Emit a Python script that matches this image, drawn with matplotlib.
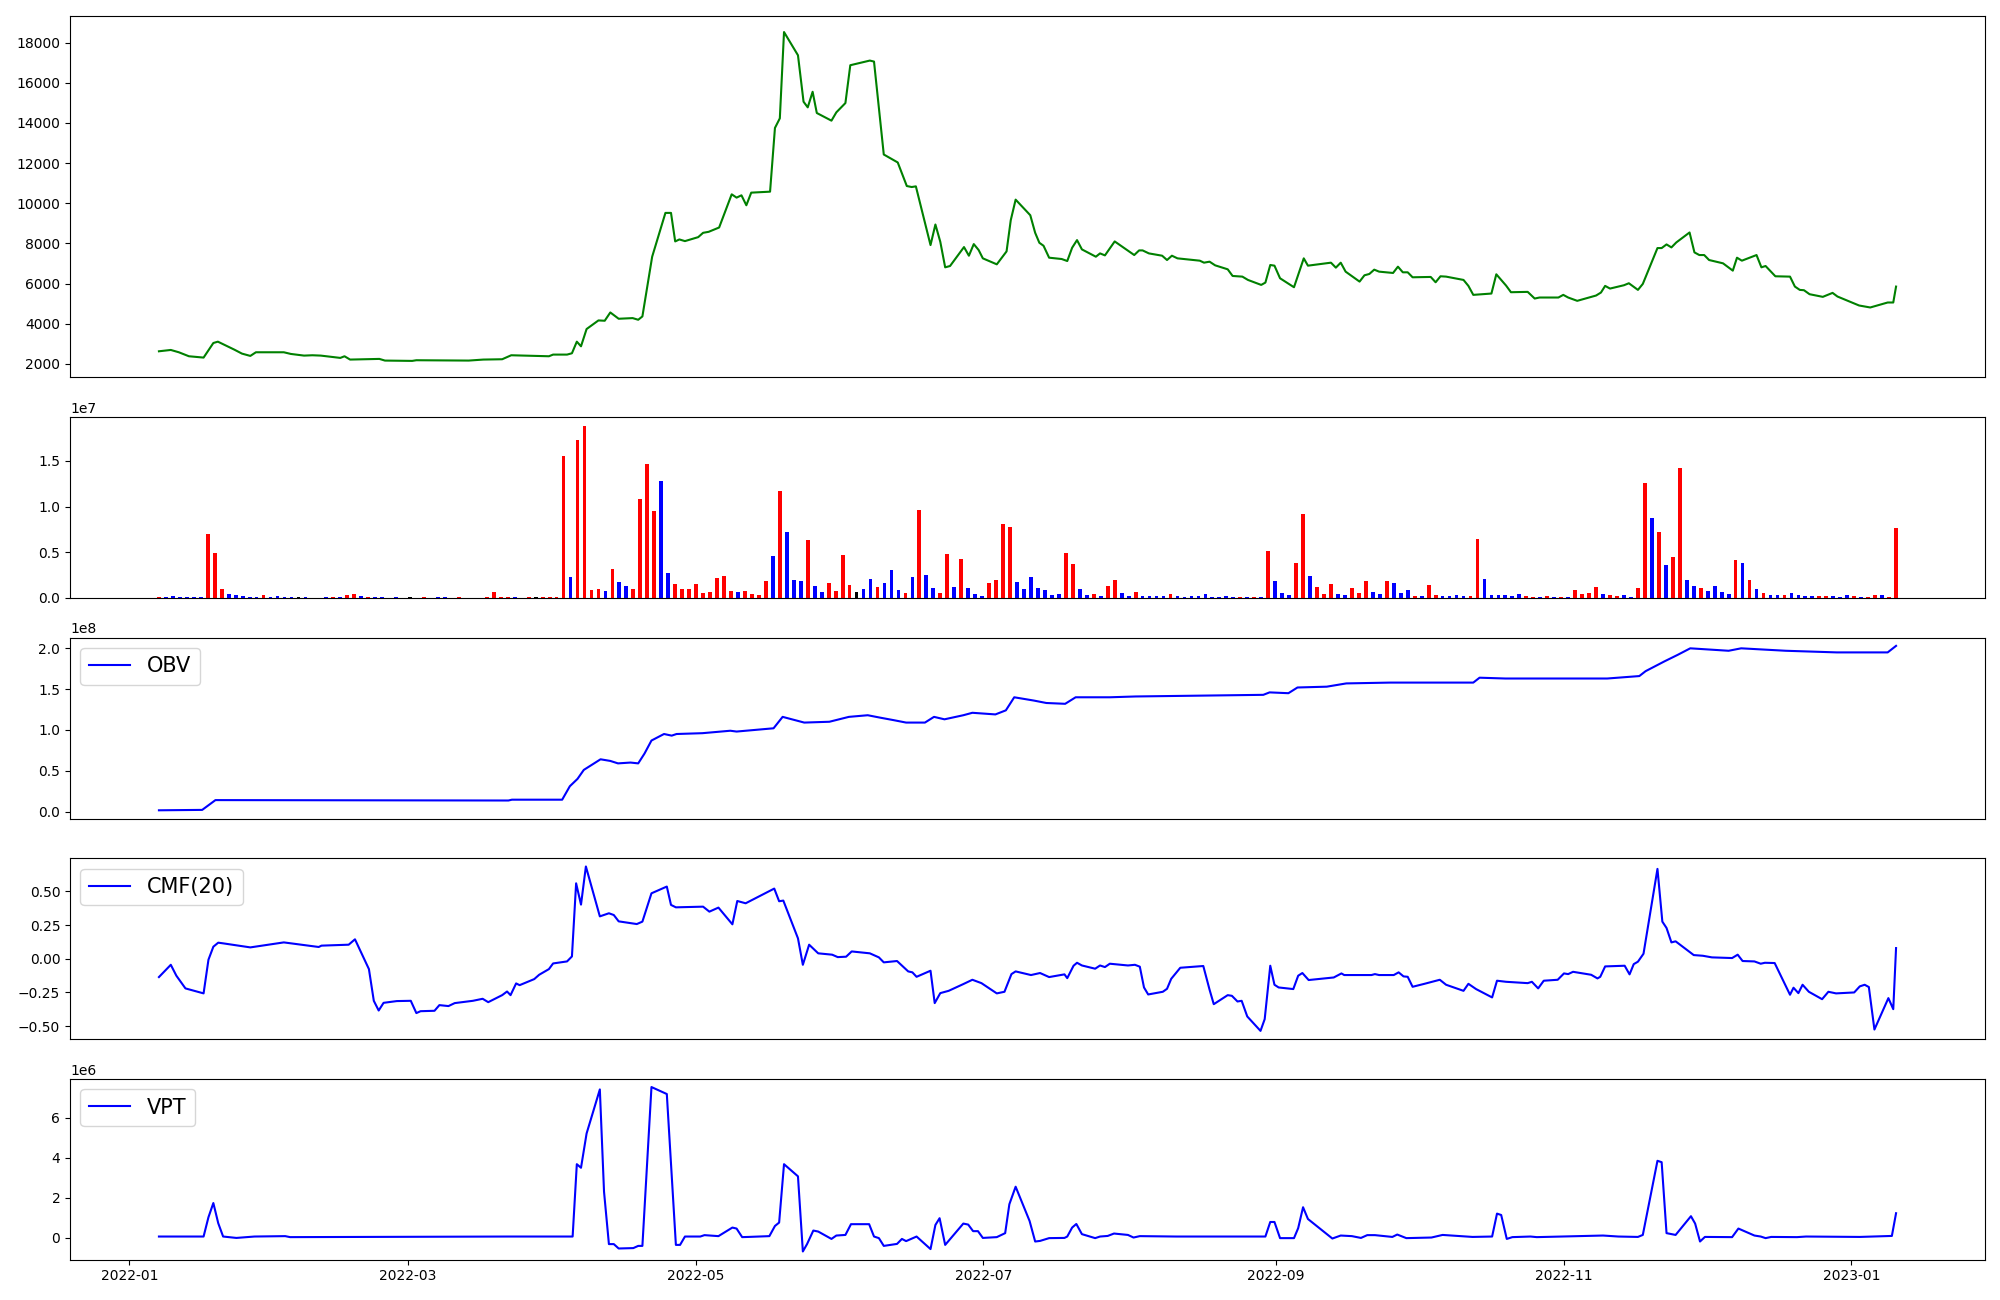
import pandas as pd
import matplotlib.pyplot as plt
import matplotlib.dates as mdates
from matplotlib.ticker import MultipleLocator
import numpy as np

# 250 rows, evenly spaced in time
start = pd.Timestamp('2022-01-07 06:00')
end = pd.Timestamp('2023-01-10 10:48')
n_rows = 250
dates = pd.date_range(start, end, periods=n_rows)
step = (end - start) / (n_rows - 1)


def row_to_date(pos):
    return [start + step * p for p in pos]


# volume (millions) and bar colour per row: r = up, b = down, k = flat
volume = [0.15, 0.15, 0.25, 0.15, 0.15, 0.15, 0.15, 6.97, 4.9, 0.98,
          0.44, 0.33, 0.22, 0.15, 0.15, 0.33, 0.15, 0.22, 0.15, 0.15,
          0.15, 0.15, 0, 0, 0.15, 0.15, 0.15, 0.33, 0.44, 0.22,
          0.15, 0.15, 0.15, 0, 0.15, 0, 0.15, 0, 0.15, 0,
          0.15, 0.15, 0, 0.15, 0, 0, 0, 0.15, 0.69, 0.15,
          0.15, 0.15, 0, 0.15, 0.15, 0.15, 0.15, 0.15, 15.58, 2.29,
          17.32, 18.85, 0.87, 0.98, 0.76, 3.16, 1.74, 1.31, 0.98, 10.78,
          14.71, 9.48, 12.75, 2.72, 1.53, 0.98, 0.98, 1.53, 0.54, 0.65,
          2.18, 2.4, 0.76, 0.65, 0.76, 0.44, 0.33, 1.85, 4.58, 11.66,
          7.19, 1.96, 1.85, 6.32, 1.31, 0.65, 1.63, 0.76, 4.68, 1.42,
          0.65, 0.98, 2.07, 1.2, 1.63, 3.05, 0.87, 0.54, 2.29, 9.59,
          2.5, 1.09, 0.54, 4.79, 1.2, 4.25, 1.09, 0.44, 0.22, 1.63,
          1.96, 8.06, 7.73, 1.74, 0.98, 2.29, 1.09, 0.87, 0.33, 0.44,
          4.9, 3.7, 0.98, 0.33, 0.44, 0.22, 1.31, 1.96, 0.54, 0.22,
          0.65, 0.22, 0.22, 0.22, 0.22, 0.44, 0.22, 0.11, 0.22, 0.22,
          0.44, 0.11, 0.11, 0.22, 0.11, 0.11, 0.11, 0.11, 0.11, 5.12,
          1.85, 0.54, 0.33, 3.81, 9.15, 2.4, 1.2, 0.44, 1.53, 0.44,
          0.33, 1.09, 0.54, 1.85, 0.65, 0.44, 1.85, 1.63, 0.54, 0.87,
          0.22, 0.22, 1.42, 0.33, 0.22, 0.22, 0.33, 0.22, 0.22, 6.43,
          2.07, 0.33, 0.33, 0.33, 0.22, 0.44, 0.22, 0.11, 0.11, 0.22,
          0.11, 0.11, 0.11, 0.87, 0.44, 0.54, 1.2, 0.44, 0.33, 0.22,
          0.33, 0.11, 1.09, 12.53, 8.71, 7.19, 3.59, 4.47, 14.27, 1.96,
          1.31, 1.09, 0.76, 1.31, 0.65, 0.44, 4.14, 3.81, 1.96, 0.98,
          0.54, 0.33, 0.33, 0.33, 0.54, 0.33, 0.22, 0.22, 0.22, 0.22,
          0.22, 0.11, 0.33, 0.22, 0.11, 0.11, 0.33, 0.33, 0.11, 7.63]
updown = ('rbbbbbbrrr' 'bbbbbrbbbb' 'kbkkbrbrrb' 'rbbkbkkkrk'
          'bbkrkkkrrr' 'rbkrkrrrrb' 'rrrrbrbbrr' 'rrbbrrrrrr'
          'rrrbrrrrbr' 'bbbrbbrrrr' 'kbbrbbbrbr' 'bbrrbrbbbr'
          'rrrbbbbbbb' 'rrbbrbrrbb' 'rbbbbrbbbb' 'bbbbbrbrbr'
          'bbbrrbrrrb' 'brrrbbrbbb' 'rbrrbbbbrr' 'bbbbbbrrbr'
          'brbrrrrbrr' 'bbrrbrbrrb' 'brbbbbrbrb' 'rbbrbbbbrr'
          'bbbrbrrbr')
colour_names = {'r': 'red', 'b': 'blue', 'k': 'black'}
bar_colours = [colour_names[c] for c in updown]

# price line: (row position, value)
price_pos = [0, 1.7, 2.85, 4.3, 6.4, 7.8, 8.45, 10.8, 11.9, 13.1, 13.9, 17.9,
             18.9, 20.8, 22.0, 23.2, 26.0, 26.6, 27.4, 31.6, 32.4, 36.3, 36.9,
             44.4, 46.5, 49.2, 50.5, 55.9, 56.5, 58.5, 59.2, 59.9, 60.5, 61.3,
             63.0, 63.9, 64.7, 65.9, 67.9, 68.7, 69.3, 70.7, 72.6, 73.4, 74.0,
             74.6, 75.4, 77.3, 78.0, 78.8, 80.3, 82.1, 82.8, 83.5, 84.2, 84.9,
             87.6, 88.3, 89.0, 89.6, 91.6, 92.4, 93.0, 93.7, 94.3, 96.4, 97.1,
             98.4, 99.1, 101.9, 102.5, 103.9, 105.9, 107.2, 107.9, 108.5,
             110.6, 111.3, 112.0, 112.7, 113.4, 115.4, 116.1, 116.8, 117.5,
             118.1, 120.1, 121.5, 122.1, 122.8, 124.9, 125.6, 126.2, 126.8,
             127.6, 129.4, 130.2, 130.9, 131.6, 132.3, 134.3, 134.9, 135.6,
             137.0, 139.8, 140.5, 141.0, 141.9, 143.8, 144.5, 145.2, 146.0,
             149.2, 149.8, 150.6, 151.4, 153.2, 153.9, 155.3, 156.1, 158.0,
             158.6, 159.3, 159.9, 160.7, 162.7, 164.1, 164.7, 168.0, 168.7,
             169.4, 170.1, 172.1, 172.8, 173.5, 174.2, 174.9, 176.9, 177.6,
             178.3, 179.0, 179.7, 182.3, 183.0, 183.7, 184.5, 187.0, 187.7,
             188.4, 191.0, 191.7, 193.1, 193.8, 196.2, 197.2, 197.9, 200.6,
             201.3, 202.0, 203.3, 206.0, 206.7, 207.3, 208.0, 210.0, 210.7,
             212.0, 212.7, 214.8, 215.4, 216.1, 216.8, 217.5, 219.4, 220.1,
             220.8, 221.5, 222.2, 224.2, 225.6, 226.2, 226.9, 229.0, 229.7,
             230.3, 231.7, 233.8, 234.5, 235.2, 235.8, 236.6, 238.5, 239.9,
             240.6, 243.7, 245.3, 247.8, 248.6, 249.0]
price = [2628, 2694, 2579, 2380, 2314, 3041, 3107, 2711, 2512, 2397, 2579, 2579,
         2496, 2413, 2430, 2413, 2298, 2380, 2215, 2248, 2165, 2149, 2182,
         2165, 2215, 2231, 2430, 2380, 2463, 2463, 2529, 3107, 2876, 3736,
         4165, 4149, 4562, 4248, 4281, 4198, 4364, 7339, 9521, 9521, 8100,
         8199, 8116, 8314, 8529, 8579, 8794, 10447, 10282, 10397, 9901, 10530,
         10579, 13753, 14232, 18530, 17373, 15059, 14778, 15555, 14497, 14116, 14530,
         14993, 16877, 17109, 17059, 12430, 12034, 10860, 10810, 10843,
         7918, 8943, 8083, 6810, 6876, 7819, 7389, 7967, 7670,
         7257, 6959, 7604, 9157, 10182, 9405, 8529, 8033, 7884,
         7290, 7224, 7124, 7786, 8166, 7703, 7339, 7504, 7405,
         8100, 7422, 7653, 7653, 7504, 7389, 7174, 7389, 7257,
         7141, 7042, 7091, 6909, 6711, 6380, 6347, 6182, 5934,
         6050, 6926, 6893, 6265, 5818, 7257, 6893, 7042, 6794,
         7042, 6595, 6099, 6413, 6479, 6694, 6595, 6529, 6843,
         6562, 6562, 6314, 6331, 6066, 6364, 6347, 6182, 5885,
         5438, 5504, 6463, 5901, 5570, 5587, 5256, 5306, 5306,
         5438, 5306, 5141, 5405, 5554, 5885, 5752, 5918, 6017,
         5686, 5984, 7769, 7769, 7951, 7802, 8050, 8546, 7554,
         7422, 7422, 7174, 7009, 6645, 7290, 7141, 7422, 6810,
         6876, 6364, 6347, 5851, 5686, 5670, 5471, 5339, 5537,
         5356, 4909, 4810, 5058, 5058, 5851]

# OBV (1e8)
obv_pos = [0, 6.2, 8.1, 50.1, 50.6, 57.8, 58.9, 60.0, 60.9, 63.3, 64.7, 65.8,
           67.6, 68.7, 69.6, 70.6, 72.4, 73.5, 74.2, 77.9, 81.9, 82.8, 88.1,
           89.4, 92.5, 96.1, 98.9, 101.6, 103.4, 105.3, 107.1, 109.8, 111.1,
           112.6, 115.3, 116.6, 119.9, 121.4, 122.6, 125.4, 127.2, 129.9,
           131.4, 136.3, 140.0, 158.3, 159.2, 161.9, 163.2, 167.4, 170.2,
           176.5, 188.4, 189.3, 193.0, 207.6, 212.2, 213.1, 214.9, 215.8,
           217.7, 219.5, 225.0, 226.8, 233.2, 240.5, 247.8, 249.0]
obv = [0.015, 0.02, 0.14, 0.135, 0.145, 0.145, 0.31, 0.4, 0.51, 0.64, 0.62, 0.59,
       0.6, 0.59, 0.71, 0.87, 0.95, 0.93, 0.95, 0.96, 0.99, 0.98, 1.02,
       1.16, 1.09, 1.1, 1.16, 1.18, 1.15, 1.12, 1.09, 1.09, 1.16,
       1.13, 1.18, 1.21, 1.19, 1.24, 1.4, 1.36, 1.33, 1.32,
       1.4, 1.4, 1.41, 1.43, 1.46, 1.45, 1.52, 1.53, 1.57,
       1.58, 1.58, 1.64, 1.63, 1.63, 1.66, 1.72, 1.80, 1.84,
       1.92, 2.0, 1.97, 2.0, 1.97, 1.95, 1.95, 2.03]

# CMF(20)
cmf_pos = [0, 1.7, 2.5, 3.8, 6.4, 7.1, 7.8, 8.5, 9.2, 13.1, 17.9, 22.9, 23.3,
           27.2, 28.1, 30.1, 30.8, 31.5, 32.2, 34.1, 36.1, 36.9, 37.5, 39.5,
           40.2, 41.5, 42.4, 45.0, 46.4, 47.2, 49.2, 49.9, 50.4, 51.2, 51.7,
           53.8, 54.5, 55.9, 56.5, 58.5, 59.2, 59.8, 60.5, 61.2, 63.2, 64.5,
           65.2, 65.9, 68.5, 69.3, 70.6, 72.8, 73.4, 74.1, 78.0, 78.9, 80.2,
           82.2, 82.9, 84.1, 88.2, 88.9, 89.5, 91.6, 92.3, 93.2, 94.5, 96.5,
           97.3, 98.5, 99.3, 101.9, 103.2, 103.9, 105.8, 107.4, 108.0, 108.6,
           110.6, 111.2, 112.0, 113.2, 115.3, 116.6, 117.9, 120.1, 121.2,
           122.2, 122.8, 125.0, 126.3, 127.6, 129.8, 130.2, 131.1, 131.6,
           132.3, 134.2, 134.9, 135.6, 136.3, 138.9, 139.9, 140.6, 141.2,
           141.8, 143.9, 144.5, 145.1, 146.4, 149.7, 150.6, 151.2, 153.2,
           153.8, 154.6, 155.2, 156.0, 157.9, 158.5, 159.3, 159.9, 160.5,
           162.6, 163.3, 163.9, 164.8, 168.4, 169.5, 169.9, 173.8, 174.3,
           174.9, 177.0, 177.7, 178.4, 179.0, 179.7, 181.4, 183.6, 184.5,
           187.0, 187.7, 188.8, 191.1, 191.8, 193.1, 196.2, 196.8, 197.7,
           198.5, 200.5, 201.4, 202.0, 202.7, 205.3, 206.2, 206.6, 207.3,
           210.1, 210.8, 211.4, 212.0, 212.8, 214.8, 215.5, 216.1, 216.8,
           217.4, 220.0, 221.3, 222.6, 225.5, 226.3, 227.0, 228.7, 229.6,
           230.2, 231.6, 233.8, 234.3, 235.0, 235.6, 236.5, 238.4, 239.3,
           240.4, 243.0, 243.8, 244.5, 245.1, 245.9, 247.9, 248.6, 249.0]
cmf = [-0.136, -0.045, -0.126, -0.22, -0.257, -0.007, 0.089, 0.119, 0.114, 0.084,
       0.121, 0.087, 0.097, 0.104, 0.144, -0.077, -0.312, -0.384, -0.327, -0.314,
       -0.312, -0.403, -0.389, -0.386, -0.344, -0.351, -0.329, -0.312, -0.297,
       -0.322, -0.27, -0.243, -0.27, -0.183, -0.196, -0.151, -0.119, -0.077,
       -0.035, -0.02, 0.017, 0.559, 0.401, 0.684, 0.314, 0.337, 0.324, 0.277,
       0.257, 0.275, 0.485, 0.535, 0.399, 0.381, 0.386, 0.349, 0.379, 0.255,
       0.428, 0.411, 0.52, 0.426, 0.431, 0.151, -0.045, 0.104, 0.04, 0.03,
       0.012, 0.015, 0.054, 0.04, 0.01, -0.027, -0.017, -0.094, -0.101, -0.134,
       -0.089, -0.329, -0.255, -0.238, -0.188, -0.156, -0.181, -0.257, -0.245,
       -0.114, -0.094, -0.121, -0.106, -0.136, -0.116, -0.144, -0.052, -0.03,
       -0.05, -0.074, -0.05, -0.062, -0.037, -0.05, -0.045, -0.059, -0.213,
       -0.265, -0.245, -0.223, -0.149, -0.067, -0.054, -0.23, -0.337, -0.27,
       -0.275, -0.317, -0.312, -0.428, -0.535, -0.448, -0.052, -0.193, -0.213,
       -0.225, -0.126, -0.106, -0.158, -0.139, -0.109, -0.121, -0.121, -0.114,
       -0.121, -0.121, -0.101, -0.131, -0.134, -0.208, -0.186, -0.156, -0.193,
       -0.238, -0.186, -0.225, -0.287, -0.163, -0.171, -0.181, -0.171, -0.22,
       -0.163, -0.156, -0.109, -0.114, -0.097, -0.119, -0.146, -0.134, -0.057,
       -0.052, -0.116, -0.04, -0.022, 0.037, 0.666, 0.275, 0.228, 0.121,
       0.129, 0.027, 0.022, 0.01, 0.005, 0.03, -0.017, -0.02, -0.037,
       -0.03, -0.032, -0.267, -0.215, -0.255, -0.193, -0.245, -0.3, -0.245,
       -0.257, -0.25, -0.205, -0.193, -0.21, -0.525, -0.292, -0.374, 0.079]

# VPT (1e6)
vpt_pos = [0, 6.4, 7.1, 7.8, 8.5, 9.2, 11.1, 13.7, 18.1, 18.8, 50.2, 59.3,
           59.9, 60.5, 61.3, 63.2, 63.8, 64.5, 65.2, 65.9, 68.0, 68.7, 69.3,
           70.6, 72.8, 74.1, 74.7, 75.4, 77.6, 78.2, 80.2, 82.2, 82.8, 83.6,
           84.5, 87.5, 88.3, 88.9, 89.6, 91.6, 92.3, 92.9, 93.8, 94.5, 96.4,
           97.1, 98.4, 99.2, 101.8, 102.5, 103.2, 103.9, 105.8, 106.5, 107.1,
           108.6, 110.6, 111.3, 111.9, 112.7, 115.3, 116.0, 116.7, 117.4,
           118.1, 120.1, 121.3, 121.9, 122.8, 124.8, 125.6, 126.3, 127.6,
           129.8, 130.2, 130.9, 131.5, 132.3, 134.2, 134.9, 136.0, 136.9,
           138.9, 139.7, 140.6, 145.8, 158.6, 159.3, 159.9, 160.7, 162.7,
           163.3, 164.0, 164.7, 168.2, 169.4, 171.0, 172.3, 173.2, 174.3,
           176.8, 177.5, 178.8, 182.4, 184.0, 188.3, 191.1, 191.8, 192.4,
           193.2, 194.0, 196.6, 197.5, 207.0, 209.2, 212.0, 212.7, 214.8,
           215.4, 216.1, 217.4, 219.6, 220.2, 220.9, 221.6, 225.5, 226.4,
           228.7, 229.6, 230.3, 231.1, 234.8, 236.1, 243.8, 248.4, 249.0]
vpt = [0.05, 0.05, 1.02, 1.73, 0.72, 0.05, -0.02, 0.05, 0.07, 0.02, 0.05, 0.05,
       3.68, 3.5, 5.22, 7.43, 2.3, -0.33, -0.33, -0.55, -0.53, -0.42, -0.42,
       7.55, 7.2, -0.37, -0.37, 0.05, 0.05, 0.12, 0.07, 0.5, 0.45, 0.02,
       0.03, 0.07, 0.58, 0.75, 3.68, 3.07, -0.7, -0.33, 0.35, 0.3, -0.07,
       0.1, 0.13, 0.67, 0.67, 0.05, -0.03, -0.42, -0.32, -0.07, -0.18,
       0.05, -0.58, 0.63, 0.97, -0.37, 0.7, 0.65, 0.32, 0.32,
       -0.02, 0.02, 0.22, 1.67, 2.55, 0.83, -0.2, -0.17, -0.03,
       -0.02, 0.05, 0.5, 0.68, 0.17, -0.03, 0.05, 0.08, 0.2,
       0.13, 0.0, 0.07, 0.05, 0.05, 0.78, 0.78, -0.03, -0.03,
       0.47, 1.52, 0.93, -0.05, 0.1, 0.07, -0.02, 0.12, 0.12,
       0.03, 0.15, -0.03, 0.0, 0.13, 0.03, 0.05, 1.2, 1.13,
       -0.07, 0.02, 0.05, 0.02, 0.1, 0.05, 0.03, 0.13, 3.85,
       3.78, 0.22, 0.13, 1.07, 0.7, -0.2, 0.03, 0.02, 0.45,
       0.1, 0.05, -0.03, 0.03, 0.02, 0.05, 0.03, 0.08, 1.22]

fig, axes = plt.subplots(5, 1, figsize=(20, 13), sharex=True,
                         gridspec_kw={'height_ratios': [2, 1, 1, 1, 1]})
plt.subplots_adjust(left=0.035, right=0.9925, top=0.988, bottom=0.031, hspace=0.183)
ax1, ax2, ax3, ax4, ax5 = axes

ax1.plot(row_to_date(price_pos), price, c='green')
ax1.yaxis.set_major_locator(MultipleLocator(2000))

ax2.bar(dates, np.array(volume) * 1e6, color=bar_colours, width=0.8)

ax3.plot(row_to_date(obv_pos), np.array(obv) * 1e8, c='blue', label='OBV')
ax3.legend(loc='upper left', fontsize=15)

ax4.plot(row_to_date(cmf_pos), cmf, c='blue', label='CMF(20)')
ax4.legend(loc='upper left', fontsize=15)

ax5.plot(row_to_date(vpt_pos), np.array(vpt) * 1e6, c='blue', label='VPT')
ax5.legend(loc='upper left', fontsize=15)

for ax in axes[:-1]:
    ax.tick_params(axis='x', bottom=False, labelbottom=False)

ax5.xaxis.set_major_locator(mdates.MonthLocator(bymonth=[1, 3, 5, 7, 9, 11]))
ax5.xaxis.set_major_formatter(mdates.DateFormatter('%Y-%m'))

fig.savefig('out.png', dpi=100)
